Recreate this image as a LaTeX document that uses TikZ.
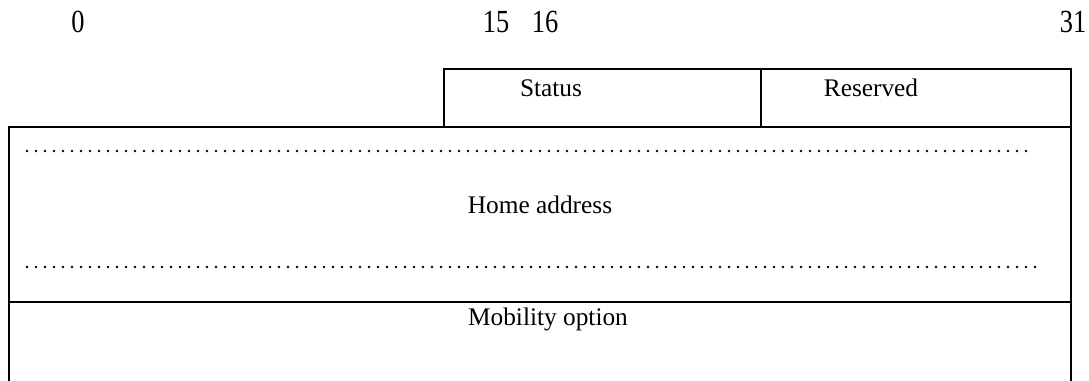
\documentclass[tikz,border=0pt]{standalone}
\usepackage{fontspec}
\setmainfont{Liberation Serif}
\usepackage{tikz}

\begin{document}
\begin{tikzpicture}[x=0.75pt,y=0.75pt,yscale=-1,xscale=1]
	\useasboundingbox (0,0) rectangle (1089,381);
	
	%Shape: Rectangle [id:status_reserved] 
	\draw  [line width=1.6pt]  (444,69) -- (1071,69) -- (1071,127) -- (444,127) -- cycle ;
	%Straight Lines [id:status_div] 
	\draw  [line width=1.6pt]  (761,69) -- (761,127) ;
	%Straight Lines [id:home_box] 
	\draw  [line width=1.6pt]  (9,381) -- (9,127) -- (1071,127) -- (1071,381) ;
	%Straight Lines [id:mobility_div] 
	\draw  [line width=1.6pt]  (9,302) -- (1071,302) ;
	%Straight Lines [id:dots_top] 
	\draw  [line width=2pt,line cap=round,dash pattern={on 0pt off 6.75pt}]  (27,151) -- (1027,151) ;
	%Straight Lines [id:dots_bottom] 
	\draw  [line width=2pt,line cap=round,dash pattern={on 0pt off 6.75pt}]  (27,267) -- (1036,267) ;
	
	% Text Node
	\draw (78,22) node [inner sep=0.75pt] (bit0)   {\fontsize{22}{26}\selectfont\scalebox{0.9}[1.1]{0}};
	% Text Node
	\draw (496,22) node [inner sep=0.75pt] (bit15)   {\fontsize{22}{26}\selectfont\scalebox{0.9}[1.1]{15}};
	% Text Node
	\draw (545,22) node [inner sep=0.75pt] (bit16)   {\fontsize{22}{26}\selectfont\scalebox{0.9}[1.1]{16}};
	% Text Node
	\draw (1073,22) node [inner sep=0.75pt] (bit31)   {\fontsize{22}{26}\selectfont\scalebox{0.9}[1.1]{31}};
	% Text Node
	\draw (551,88) node [inner sep=0.75pt] (status)   {\fontsize{19}{22}\selectfont Status};
	% Text Node
	\draw (871,88) node [inner sep=0.75pt] (reserved)   {\fontsize{19}{22}\selectfont Reserved};
	% Text Node
	\draw (540,205) node [inner sep=0.75pt] (home)   {\fontsize{19}{22}\selectfont Home address};
	% Text Node
	\draw (548,319) node [inner sep=0.75pt] (mobility)   {\fontsize{19}{22}\selectfont Mobility option};
	
\end{tikzpicture}
\end{document}
